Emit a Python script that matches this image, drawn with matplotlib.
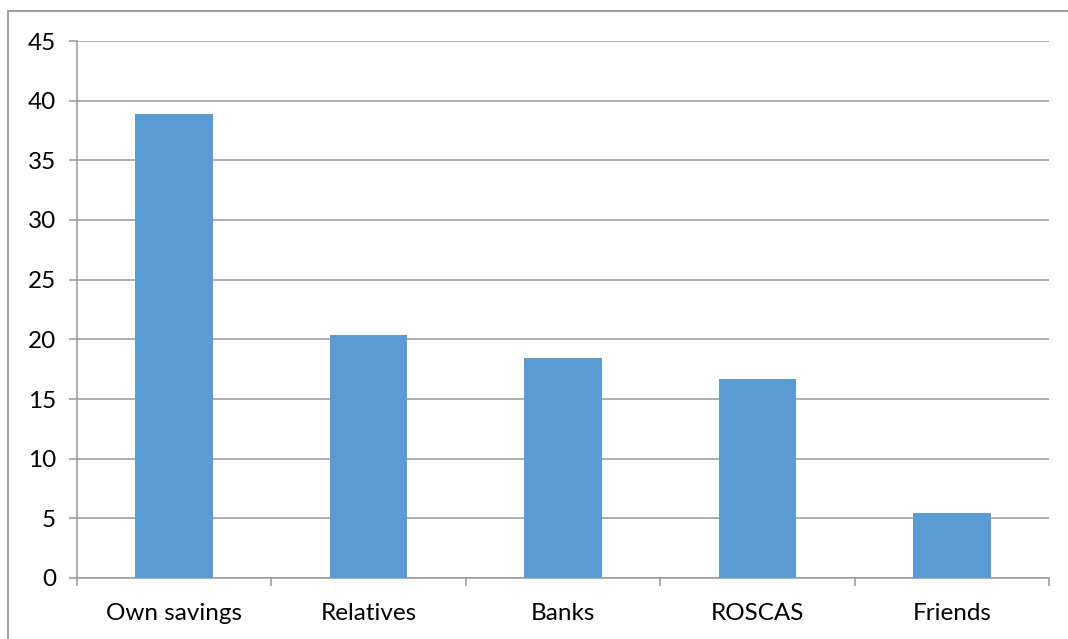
import matplotlib.pyplot as plt
from matplotlib.patches import Rectangle
import numpy as np

plt.rcParams['font.family'] = ['Lato', 'DejaVu Sans']

sources = ["Own savings", "Relatives", "Banks", "ROSCAS", "Friends"]
shares = [38.85, 20.35, 18.45, 16.65, 5.45]
yticks = [0, 5, 10, 15, 20, 25, 30, 35, 40, 45]

grey = "#a0a0a0"
fig = plt.figure(figsize=(10.68, 6.39), dpi=100)
ax = fig.add_axes([77 / 1068, 1 - 578 / 639, 972 / 1068, 537 / 639])

x = np.arange(len(sources))
ax.bar(x, shares, width=0.4, color="#5b9bd5", zorder=3)

ax.set_xlim(-0.5, len(sources) - 0.5)
ax.set_ylim(0, 45)
ax.set_yticks(yticks)
ax.yaxis.grid(True, color=grey, linewidth=1.2, zorder=0)
ax.set_xticks(x)
ax.set_xticklabels(sources)
ax.set_xticks(np.arange(len(sources) + 1) - 0.5, minor=True)

ax.tick_params(axis="x", which="major", length=0, pad=18, labelsize=17.5,
               labelcolor="black")
ax.tick_params(axis="x", which="minor", length=6, color=grey, width=1.2)
ax.tick_params(axis="y", length=6, color=grey, width=1.2, pad=9, labelsize=17.5,
               labelcolor="black")

for side in ["top", "right"]:
    ax.spines[side].set_visible(False)
for side in ["left", "bottom"]:
    ax.spines[side].set_color(grey)
    ax.spines[side].set_linewidth(1.2)

fig.add_artist(Rectangle((8 / 1068, -0.1), 1.2, 1.1 - 11 / 639, fill=False,
                         edgecolor="#8c8c8c", linewidth=1.2,
                         transform=fig.transFigure, clip_on=False))

fig.savefig("out.png", dpi=100)
